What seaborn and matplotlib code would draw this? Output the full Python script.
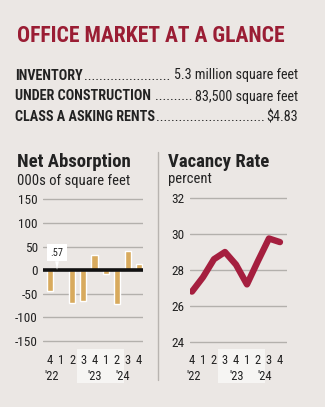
import numpy as np
import pandas as pd
import matplotlib
matplotlib.use("Agg")
import matplotlib.pyplot as plt
import seaborn as sns
from matplotlib import font_manager as fm
from matplotlib.patches import Rectangle
from matplotlib.lines import Line2D
from matplotlib.transforms import blended_transform_factory

# ---------------- data ----------------
quarters = ["Q4'22", "Q1'23", "Q2'23", "Q3'23", "Q4'23", "Q1'24", "Q2'24", "Q3'24", "Q4'24"]
quarter_labels = ["4", "1", "2", "3", "4", "1", "2", "3", "4"]
net_absorption = [-45, 0.57, -70, -66, 33, -8, -72, 40, 12]
vacancy_rate = [26.8, 27.6, 28.6, 29.0, 28.3, 27.2, 28.5, 29.75, 29.55]
absorption_ticks = [-150, -100, -50, 0, 50, 100, 150]
vacancy_ticks = [24, 26, 28, 30, 32]
year_labels = ["'22", "'23", "'24"]
stats_labels = ["INVENTORY", "UNDER CONSTRUCTION", "CLASS A ASKING RENTS"]
stats_values = ["5.3 million square feet", "83,500 square feet", "$4.83"]

# ---------------- style ----------------
BG = "#ebe7e4"
RED = "#9a1d34"
LINE = "#a51f3f"
BAR = "#d8aa5d"
GRID = "#b3b0ac"
TXT = "#222222"

sns.set_theme(style="white")
names = {f.name for f in fm.fontManager.ttflist}
FONT = next((n for n in ["Liberation Sans Narrow", "Roboto Condensed", "Open Sans Condensed"] if n in names), "DejaVu Sans")
plt.rcParams["font.family"] = [FONT, "DejaVu Sans"]
if FONT == "DejaVu Sans":
    plt.rcParams["font.stretch"] = "condensed"

W, H = 325, 407
fig = plt.figure(figsize=(W / 100, H / 100), dpi=100, facecolor=BG)


def fx(x):
    return x / W


def fy(y):
    return 1 - y / H


def px_axes(x0, x1, ytop, ybot):
    return fig.add_axes([fx(x0), fy(ybot), (x1 - x0) / W, (ybot - ytop) / H])


# ---------------- header ----------------
fig.text(fx(17), fy(42), "OFFICE MARKET AT A GLANCE", color=RED, fontsize=15.6,
         fontweight="bold", va="baseline", ha="left")

baselines = [79.5, 100.5, 121]
gaps = [1.0, 4.5, 1.0]
FS = 10.2
fig.canvas.draw()
renderer = fig.canvas.get_renderer()
probe = fig.text(0, 0, "." * 20, fontsize=FS)
dw = probe.get_window_extent(renderer).width / 20
probe.remove()
for lab, val, yb, g in zip(stats_labels, stats_values, baselines, gaps):
    t1 = fig.text(fx(15), fy(yb), lab, color=TXT, fontsize=FS, fontweight="bold",
                  va="baseline", ha="left")
    t2 = fig.text(fx(298), fy(yb), val, color=TXT, fontsize=FS, va="baseline", ha="right")
    b1 = t1.get_window_extent(renderer)
    b2 = t2.get_window_extent(renderer)
    gap_l = b1.x1 + g
    gap_r = b2.x0 - 1
    n = max(int((gap_r - gap_l) / dw), 0)
    fig.text(gap_l / W, fy(yb), "." * n, color=TXT, fontsize=FS, va="baseline", ha="left")

# ---------------- panel titles ----------------
fig.text(fx(17), fy(167.5), "Net Absorption", color=TXT, fontsize=13.5, fontweight="bold", va="baseline")
fig.text(fx(17), fy(184.5), "000s of square feet", color=TXT, fontsize=10.5, va="baseline")
fig.text(fx(168), fy(167.5), "Vacancy Rate", color=TXT, fontsize=13.5, fontweight="bold", va="baseline")
fig.text(fx(168), fy(183), "percent", color=TXT, fontsize=10.5, va="baseline")

# separator
fig.add_artist(Line2D([fx(158), fx(158)], [fy(152), fy(380)], color="#b8b4b0", lw=1.0))

# ---------------- left: net absorption ----------------
df_a = pd.DataFrame({"quarter": quarters, "value": net_absorption})
axL = px_axes(43, 143, 195, 345)
sns.barplot(data=df_a, x="quarter", y="value", order=quarters, color=BAR, width=0.55,
            saturation=1, errorbar=None, ax=axL, zorder=2)
k = 141.7 / 300.0
z0 = 270.15
axL.set_ylim((z0 - 345) / k, (z0 - 195) / k)
axL.set_xlim(-0.63, 8.36)
axL.set_yticks(absorption_ticks)
axL.set_yticklabels([str(v) for v in absorption_ticks])
axL.axhline(0, color="#111111", lw=2.6, zorder=3)
axL.annotate(".57", xy=(0.63, 0.57), xytext=(0.63, 37), ha="center", va="center",
             fontsize=7.5, color=TXT, zorder=5,
             bbox=dict(boxstyle="square,pad=0.35", fc="white", ec="none"),
             arrowprops=dict(arrowstyle="wedge,tail_width=0.35,shrink_factor=0.5",
                             fc="white", ec="none", shrinkA=0, shrinkB=0))

# ---------------- right: vacancy rate ----------------
df_v = pd.DataFrame({"pos": range(len(quarters)), "value": vacancy_rate})
axR = px_axes(190, 287, 195, 345)
sns.lineplot(data=df_v, x="pos", y="value", color=LINE, lw=4.6, ax=axR,
             solid_capstyle="round", solid_joinstyle="round", zorder=3)
axR.set_ylim(24 - 3 / 18, 32 + 3 / 18)
axR.set_xlim(-0.18, 8.64)
axR.set_yticks(vacancy_ticks)
axR.set_yticklabels([str(v) for v in vacancy_ticks])

# ---------------- shared axis styling ----------------
year_pos = {axL: [0.15, 4.05, 6.5], axR: [0.15, 4.1, 6.6]}
hl = {axL: (2.43, 6.65), axR: (2.36, 6.64)}
for ax in (axL, axR):
    ax.set_facecolor("none")
    for s in ax.spines.values():
        s.set_visible(False)
    ax.grid(axis="y", color=GRID, lw=1.0, zorder=1)
    ax.grid(axis="x", visible=False)
    ax.set_axisbelow(True)
    ax.set_xlabel("")
    ax.set_ylabel("")
    ax.set_xticks(range(len(quarters)))
    ax.set_xticklabels(quarter_labels)
    ax.tick_params(axis="x", length=0, pad=6.2, labelsize=9, labelcolor=TXT)
    ax.tick_params(axis="y", length=0, pad=3.8, labelsize=9.5, labelcolor=TXT)
    tr = blended_transform_factory(ax.transData, fig.transFigure)
    x0, x1 = hl[ax]
    ax.add_patch(Rectangle((x0, fy(383)), x1 - x0, (383 - 349) / H, transform=tr,
                           fc="#f6f5f3", ec="none", clip_on=False, zorder=0))
    for xp, yl in zip(year_pos[ax], year_labels):
        ax.text(xp, fy(380), yl, transform=tr, ha="center", va="baseline",
                fontsize=9, color=TXT)

fig.savefig("out.png", dpi=100, facecolor=BG)
